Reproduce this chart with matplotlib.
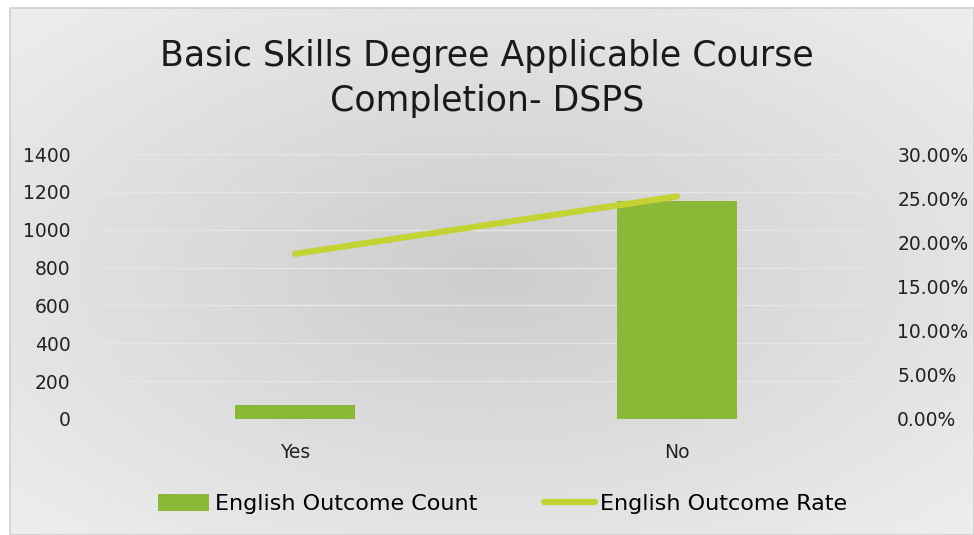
import matplotlib.pyplot as plt
import numpy as np
from matplotlib.ticker import PercentFormatter

categories = ["Yes", "No"]
outcome_count = [72, 1150]
outcome_rate = [18.7, 25.2]

plt.rcParams["font.family"] = ["DejaVu Sans"]

fig = plt.figure(figsize=(9.74, 5.35), dpi=100)

# radial grey background of the chart area
bg = fig.add_axes([10 / 974, 0, 964 / 974, 527 / 535], zorder=-10)
yy, xx = np.mgrid[-1:1:300j, -1:1:500j]
r = np.sqrt(xx ** 2 + yy ** 2) / np.sqrt(2)
bg.imshow(0.80 + 0.13 * r, cmap="gray", vmin=0, vmax=1, aspect="auto",
          extent=(0, 1, 0, 1))
bg.set_axis_off()
fig.patches.append(plt.Rectangle((10 / 974, 0), 964 / 974, 527 / 535,
                                 transform=fig.transFigure, fill=False,
                                 edgecolor="#d0d0d0", linewidth=1.2))

ax = fig.add_axes([104 / 974, (535 - 419) / 535, 764 / 974, 265 / 535])
ax.patch.set_alpha(0)
x = np.arange(len(categories))
ax.bar(x, outcome_count, width=0.315, color="#8bb836",
       label="English Outcome Count", zorder=2)
ax.set_xlim(-0.5, 1.5)
ax.set_ylim(0, 1400)
ax.set_yticks(np.arange(0, 1401, 200))
ax.set_xticks(x)
ax.set_xticklabels(categories)
ax.grid(axis="y", color="#e6e6e6", linewidth=1, zorder=0)
for s in ax.spines.values():
    s.set_visible(False)
ax.tick_params(length=0, labelsize=13.5, colors="#222222")
ax.tick_params(axis="y", pad=24)
ax.tick_params(axis="x", pad=17)

ax2 = ax.twinx()
ax2.plot(x, outcome_rate, color="#c4d334", linewidth=4.5,
         solid_capstyle="round", label="English Outcome Rate", zorder=3)
ax2.set_ylim(0, 30)
ax2.set_yticks(np.arange(0, 31, 5))
ax2.yaxis.set_major_formatter(PercentFormatter(decimals=2))
for s in ax2.spines.values():
    s.set_visible(False)
ax2.tick_params(length=0, labelsize=13.5, colors="#222222", pad=21)

fig.text(0.5, 0.853, "Basic Skills Degree Applicable Course\nCompletion- DSPS",
         ha="center", va="center", fontsize=25, color="#1a1a1a",
         linespacing=1.4)

h1, l1 = ax.get_legend_handles_labels()
h2, l2 = ax2.get_legend_handles_labels()
fig.legend(h1 + h2, l1 + l2, loc="center", bbox_to_anchor=(0.516, 0.058),
           ncol=2, frameon=False, fontsize=16, handlelength=2.3,
           handleheight=0.8, columnspacing=3.0, handletextpad=0.25)

fig.savefig("out.png", dpi=100)
